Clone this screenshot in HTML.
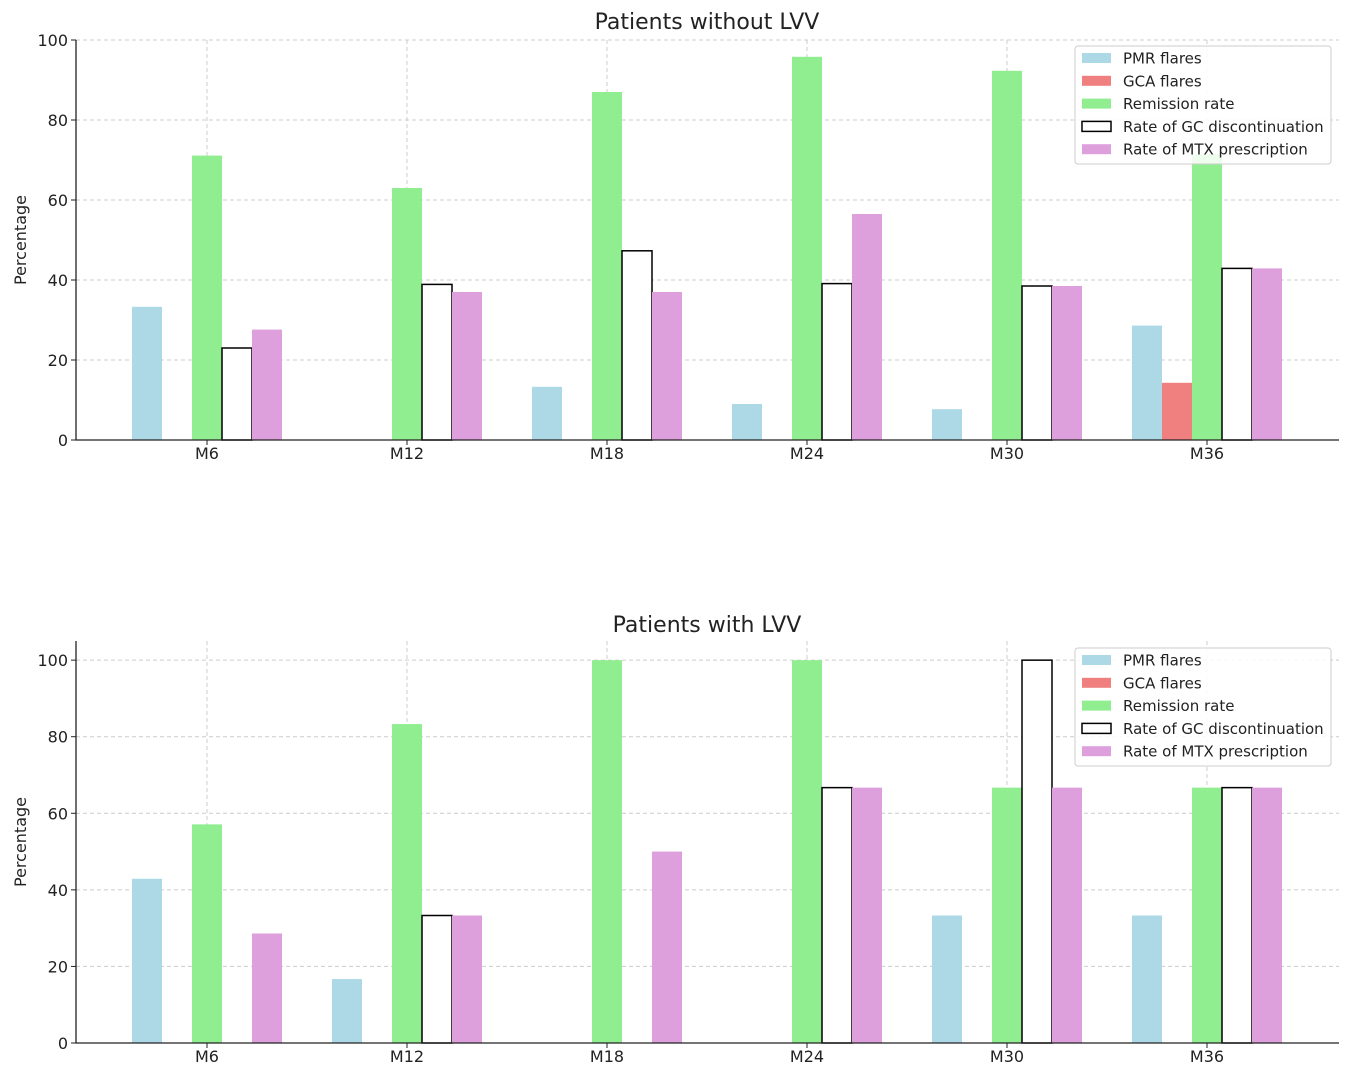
<!DOCTYPE html>
<html><head><meta charset="utf-8">
<style>
html,body{margin:0;padding:0;background:#fff;}
svg{display:block;font-family:"DejaVu Sans","Liberation Sans",sans-serif;}
</style></head>
<body>
<svg id="chart" width="1349" height="1077" viewBox="0 0 1349 1077"></svg>
<script>
const categories = ["M6","M12","M18","M24","M30","M36"];
const seriesNames = ["PMR flares","GCA flares","Remission rate","Rate of GC discontinuation","Rate of MTX prescription"];
const topPMR = [33.3,0,13.3,9,7.7,28.6];
const topGCA = [0,0,0,0,0,14.3];
const topRem = [71.1,63,87,95.8,92.3,71.4];
const topGC = [23,38.9,47.3,39.1,38.5,42.9];
const topMTX = [27.6,37,37,56.5,38.5,42.9];
const botPMR = [42.9,16.7,0,0,33.3,33.3];
const botGCA = [0,0,0,0,0,0];
const botRem = [57.1,83.3,100,100,66.7,66.7];
const botGC = [0,33.3,0,66.7,100,66.7];
const botMTX = [28.6,33.3,50,66.7,66.7,66.7];
const yTicks = [0,20,40,60,80,100];

const NS="http://www.w3.org/2000/svg";
const svg=document.getElementById('chart');
function mk(tag,attrs,parent){const e=document.createElementNS(NS,tag);for(const k in attrs)e.setAttribute(k,attrs[k]);(parent||svg).appendChild(e);return e;}
const colors=["#add8e6","#f08080","#90ee90","#ffffff","#dda0dd"];

function panel(cfg){
  const g=mk('g',{});
  
  
  const L=76,R=1339,T=cfg.top,B=cfg.bottom,ymax=cfg.ymax;
  const x=i=>207+200*i;
  const y=v=>B-(v/ymax)*(B-T);
  yTicks.forEach(t=>{
    const l=mk('line',{x1:L,x2:R,y1:y(t),y2:y(t),stroke:'#cccccc','stroke-dasharray':'4,3','stroke-width':1},g);
    
    
  });
  categories.forEach((c,i)=>{
    const l=mk('line',{x1:x(i),x2:x(i),y1:T,y2:B,stroke:'#cccccc','stroke-dasharray':'4,3','stroke-width':1},g);
    
    
  });
  cfg.series.forEach((arr,s)=>{
    arr.forEach((v,i)=>{
      if(v<=0)return;
      const cx=x(i)+(s-2)*30;
      const r=mk('rect',{x:cx-15,y:y(v),width:30,height:B-y(v),fill:colors[s]},g);
      if(s===3){r.setAttribute('stroke','#000');r.setAttribute('stroke-width','1.5');}
      
      
    });
  });
  const ax=mk('path',{d:`M${L} ${T} V${B} H${R}`,fill:'none',stroke:'#222','stroke-width':1.3},g);
  
  
  yTicks.forEach(t=>{
    mk('line',{x1:L-5,x2:L,y1:y(t),y2:y(t),stroke:'#222'},g);
    const tx=mk('text',{x:L-8,y:y(t)+6,'text-anchor':'end','font-size':16,fill:'#222'},g);
    tx.textContent=t;
    
    
  });
  categories.forEach((c,i)=>{
    mk('line',{x1:x(i),x2:x(i),y1:B,y2:B+5,stroke:'#222'},g);
    const tx=mk('text',{x:x(i),y:B+19,'text-anchor':'middle','font-size':16,fill:'#222'},g);
    tx.textContent=c;
    
    
  });
  const tt=mk('text',{x:707,y:cfg.titleY,'text-anchor':'middle','font-size':22,fill:'#222'},g);
  tt.textContent=cfg.title;
  
  
  const yl=mk('text',{x:0,y:0,'text-anchor':'middle','font-size':16,fill:'#222',transform:`translate(26 ${(T+B)/2}) rotate(-90)`},g);
  yl.textContent='Percentage';
  
  
  const lg=mk('g',{},g);
  
  
  mk('rect',{x:1075,y:cfg.legY,width:256,height:118,rx:3,fill:'#fff','fill-opacity':0.85,stroke:'#ccc'},lg);
  seriesNames.forEach((n,s)=>{
    const ey=cfg.legY+12+s*22.8;
    const sw=mk('rect',{x:1082,y:ey-5,width:29,height:10,fill:colors[s]},lg);
    if(s===3){sw.setAttribute('stroke','#000');sw.setAttribute('stroke-width','1.5');}
    
    
    const t=mk('text',{x:1123,y:ey+5.5,'font-size':15,fill:'#222'},lg);
    t.textContent=n;
    
    
  });
}
panel({name:'panel-without-lvv',top:40,bottom:440,ymax:100,title:'Patients without LVV',titleY:29,legY:46,
  series:[topPMR,topGCA,topRem,topGC,topMTX]});
panel({name:'panel-with-lvv',top:641,bottom:1043,ymax:105,title:'Patients with LVV',titleY:632,legY:648,
  series:[botPMR,botGCA,botRem,botGC,botMTX]});
</script>
</body></html>
